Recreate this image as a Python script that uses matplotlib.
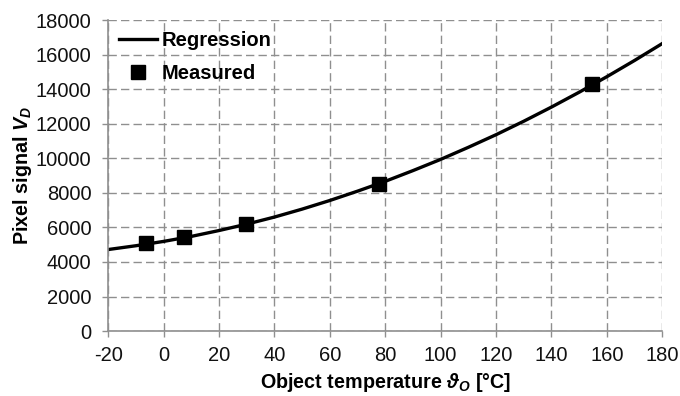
import numpy as np
import matplotlib.pyplot as plt

plt.rcParams['font.family'] = ['Liberation Sans', 'DejaVu Sans']
plt.rcParams['mathtext.fontset'] = 'custom'
plt.rcParams['mathtext.it'] = 'Liberation Sans:italic:bold'
plt.rcParams['mathtext.rm'] = 'Liberation Sans:bold'
plt.rcParams['axes.unicode_minus'] = False

# regression curve, every 10 degC
reg_temp = [-20, -10, 0, 10, 20, 30, 40, 50, 60, 70, 80, 90, 100, 110, 120, 130, 140, 150, 160, 170, 180]
reg_signal = [4720, 4940, 5190, 5480, 5820, 6190, 6600, 7060, 7560, 8100, 8670, 9290, 9940,
              10640, 11370, 12150, 12970, 13830, 14730, 15670, 16650]

# measured points
meas_temp = [-6.3, 7.3, 29.8, 77.9, 154.8]
meas_signal = [5090, 5450, 6200, 8540, 14280]

xticks = list(range(-20, 181, 20))
yticks = list(range(0, 18001, 2000))

fig = plt.figure(figsize=(6.8, 3.96), dpi=100)
ax = fig.add_axes([0.159, 0.164, 0.815, 0.785])

gray = '#8f8f8f'
ax.grid(True, color=gray, linestyle=(0, (6, 3)), linewidth=1.0)
ax.set_axisbelow(True)

ax.plot(reg_temp, reg_signal, color='black', lw=2.4, label='Regression')
ax.plot(meas_temp, meas_signal, 's', color='black', ms=10, label='Measured')

ax.set_xlim(-20, 180)
ax.set_ylim(0, 18000)
ax.set_xticks(xticks)
ax.set_yticks(yticks)
ax.tick_params(colors=gray, labelcolor='#111111', labelsize=14.5, length=4, width=1)
ax.tick_params(axis='x', pad=7)
ax.tick_params(axis='y', pad=8)
for s in ['top', 'right']:
    ax.spines[s].set_visible(False)
for s in ['left', 'bottom']:
    ax.spines[s].set_color(gray)
    ax.spines[s].set_linewidth(1.2)

ax.set_xlabel(r'Object temperature $\vartheta_O$ [°C]', fontsize=14.2, fontweight='bold', labelpad=4)
ax.set_ylabel(r'Pixel signal $V_D$', fontsize=14.2, fontweight='bold', labelpad=1)

leg = ax.legend(loc='upper left', frameon=False, fontsize=14.5, handlelength=1.9,
                handletextpad=0.2, borderaxespad=0.15, labelspacing=0.7)
for t in leg.get_texts():
    t.set_fontweight('bold')

fig.savefig('out.png', dpi=100)
